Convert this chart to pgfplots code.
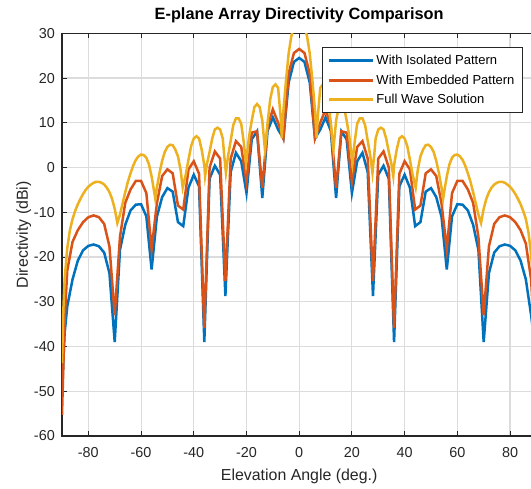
\documentclass[border=0pt]{standalone}
\usepackage{fontspec}
\setmainfont{Liberation Sans}
\usepackage{pgfplots}
\pgfplotsset{compat=1.18}
\definecolor{mBlue}{HTML}{0072BD}
\definecolor{mOrange}{HTML}{D95319}
\definecolor{mYellow}{HTML}{EDB120}
\definecolor{axcol}{HTML}{262626}
\definecolor{gridcol}{HTML}{DCDCDC}

\begin{document}
\begin{tikzpicture}
\begin{axis}[
  name=ax,
  scale only axis,
  width=474.4pt, height=402.7pt,
  xmin=-90, xmax=90, ymin=-60, ymax=30,
  xtick={-80,-60,-40,-20,0,20,40,60,80},
  xticklabels={-80,-60,-40,-20,0,20,40,60,80},
  ytick={-60,-50,-40,-30,-20,-10,0,10,20,30},
  yticklabels={-60,-50,-40,-30,-20,-10,0,10,20,30},
  tick align=inside,
  major tick length=5pt,
  every tick/.style={axcol, line width=1pt},
  axis line style={axcol, line width=1.2pt},
  grid=major,
  major grid style={gridcol, line width=1.1pt},
  ticklabel style={font=\fontsize{14.4}{16}\selectfont, text=axcol},
  xticklabel style={anchor=north, inner sep=0pt, yshift=-11pt},
  yticklabel style={anchor=east, inner sep=0pt, xshift=-7pt},
  title={E-plane Array Directivity Comparison},
  title style={at={(axis description cs:0.5,1.0206)}, anchor=base, inner sep=0pt,
    font=\fontsize{16.3}{18}\selectfont\bfseries, text=black},
  xlabel={Elevation Angle (deg.)},
  ylabel={Directivity (dBi)},
  xlabel style={at={(axis description cs:0.5,-0.1093)}, anchor=base, inner sep=0pt,
    font=\fontsize{15.9}{18}\selectfont, text=axcol},
  ylabel style={at={(axis description cs:-0.0717,0.5)}, anchor=base, inner sep=0pt,
    font=\fontsize{15.9}{18}\selectfont, text=axcol},
  legend style={at={(axis description cs:0.9705,0.9652)}, anchor=north east,
    draw=axcol, line width=0.8pt, fill=white,
    font=\fontsize{13}{15}\selectfont,
    inner xsep=5.5pt, inner ysep=3.25pt, row sep=0pt,
    nodes={inner ysep=0pt, inner xsep=2pt, minimum height=19.5pt}},
  legend cell align=left,
  legend image code/.code={\draw[#1, line width=2.7pt] (0pt,0pt) -- (44pt,0pt);},
  every axis plot/.append style={line width=2.5pt},
]
% With Isolated Pattern
\addplot[mBlue] coordinates {
(-90,-50) (-89,-37) (-88,-31) (-86,-25) (-84,-20.8) (-82,-18.5) (-80,-17.5)
(-78,-17.2) (-76,-17.6) (-74,-19) (-72,-23.6) (-70,-39) (-68,-18.4) (-66,-12.8)
(-64,-9.6) (-62,-8.3) (-60,-8.2) (-58,-10.9) (-56,-22.8) (-54,-11) (-52,-6.6)
(-50,-4.6) (-48,-5.4) (-46,-12.2) (-44,-13.1) (-42,-4.5) (-40,-1.6) (-38,-4.2)
(-36,-39) (-34,-2.5) (-32,0.4) (-30,-1.6) (-28,-28.7) (-26,-1) (-24,3.3)
(-22,1.4) (-20,-5.7) (-18,6.3) (-16,8.1) (-14,-6.8) (-12,8.2) (-10,11.2)
(-8,8.5) (-6,6.5) (-4,19) (-2,23.6) (0,24.5)
(2,23.6) (4,19) (6,6.5) (8,8.5) (10,11.2) (12,8.2) (14,-6.8) (16,8.1) (18,6.3)
(20,-5.7) (22,1.4) (24,3.3) (26,-1) (28,-28.7) (30,-1.6) (32,0.4) (34,-2.5)
(36,-39) (38,-4.2) (40,-1.6) (42,-4.5) (44,-13.1) (46,-12.2) (48,-5.4)
(50,-4.6) (52,-6.6) (54,-11) (56,-22.8) (58,-10.9) (60,-8.2) (62,-8.3)
(64,-9.6) (66,-12.8) (68,-18.4) (70,-39) (72,-23.6) (74,-19) (76,-17.6)
(78,-17.2) (80,-17.5) (82,-18.5) (84,-20.8) (86,-25) (88,-33) (89,-38) (90,-50)
};
\addlegendentry{With Isolated Pattern}
% With Embedded Pattern
\addplot[mOrange] coordinates {
(-90,-55.3) (-89,-34) (-88,-23) (-86,-16.6) (-84,-14) (-82,-12.2) (-80,-11.1)
(-78,-10.7) (-76,-11.1) (-74,-12.6) (-72,-17.6) (-70,-33) (-68,-15.5) (-66,-7.9)
(-64,-4.9) (-62,-3) (-60,-3) (-58,-5.7) (-56,-18.2) (-54,-8) (-52,-1.9)
(-50,-0.4) (-48,-1.3) (-46,-8.5) (-44,-9.4) (-42,-0.4) (-40,1.4) (-38,-1.4)
(-36,-35.9) (-34,0) (-32,3.6) (-30,2) (-28,-25.4) (-26,2) (-24,5.9) (-22,4.6)
(-20,-3.1) (-18,7.8) (-16,8.1) (-14,-4.5) (-12,9.3) (-10,13) (-8,10) (-6,6.5)
(-4,21) (-2,25.6) (0,26.5)
(2,25.6) (4,21) (6,6.5) (8,10) (10,13) (12,9.3) (14,-4.5) (16,8.1) (18,7.8)
(20,-3.1) (22,4.6) (24,5.9) (26,2) (28,-25.4) (30,2) (32,3.6) (34,0)
(36,-35.9) (38,-1.4) (40,1.4) (42,-0.4) (44,-9.4) (46,-8.5) (48,-1.3)
(50,-0.4) (52,-1.9) (54,-8) (56,-18.2) (58,-5.7) (60,-3) (62,-3) (64,-4.9)
(66,-7.9) (68,-15.5) (70,-33) (72,-17.6) (74,-12.6) (76,-11.1) (78,-10.7)
(80,-11.1) (82,-12.2) (84,-14) (86,-17) (88,-25) (89,-36) (90,-55.3)
};
\addlegendentry{With Embedded Pattern}
% Full Wave Solution
\addplot[mYellow] coordinates {
(-90,-43.7) (-89.5,-32) (-89,-25) (-88,-18) (-87,-14) (-86,-11.5) (-85,-9.7)
(-84,-8.2) (-83,-7) (-82,-5.9) (-81,-5) (-80,-4.3) (-79,-3.8) (-78,-3.4)
(-77,-3.2) (-76,-3.2) (-75,-3.4) (-74,-3.8) (-73,-4.5) (-72,-5.5) (-71,-7)
(-70,-9.2) (-69,-12.4) (-68,-10.5) (-67,-8) (-66,-5.5) (-65,-3.2) (-64,-1.3)
(-63,0.4) (-62,1.7) (-61,2.5) (-60,2.9) (-59,2.8) (-58,2.2) (-57,0.7) (-56,-2)
(-55,-5.5) (-54.6,-7) (-54,-4.5) (-53,-1.2) (-52,1.5) (-51,3.5) (-50,4.6)
(-49,5.1) (-48,5) (-47,4) (-46,2.5) (-45,-0.5) (-44.2,-4.5) (-43,-1.5)
(-42,1.8) (-41,4.8) (-40,6.5) (-39,7) (-38,6.5) (-37,4) (-36,0.5) (-35.7,-1.9)
(-35,0.8) (-34,3.5) (-33,6.5) (-32,8.5) (-31,8.9) (-30,8.5) (-29,6.5)
(-28.5,3) (-27.8,-1.2) (-27,2.5) (-26,6) (-25,9.5) (-24,11) (-23,11) (-22,9.8)
(-21,5.5) (-20.2,1) (-19.5,4.5) (-19,7) (-18,10.5) (-17,13.5) (-16,14.2)
(-15,13.5) (-14,10.5) (-13,4) (-12.5,6.5) (-12,10) (-11,15.2) (-10,18)
(-9,18.6) (-8,17.8) (-7,11) (-6.6,6.6) (-6,12.7) (-5,19.5) (-4,25.5)
(-3,29.3) (-2,31.5) (-1,32.5) (0,33)
(1,32.5) (2,31.5) (3,29.3) (4,25.5) (5,19.5) (6,12.7) (6.6,6.6) (7,11)
(8,17.8) (9,18.6) (10,18) (11,15.2) (12,10) (12.5,6.5) (13,4) (14,10.5)
(15,13.5) (16,14.2) (17,13.5) (18,10.5) (19,7) (19.5,4.5) (20.2,1) (21,5.5)
(22,9.8) (23,11) (24,11) (25,9.5) (26,6) (27,2.5) (27.8,-1.2) (28.5,3)
(29,6.5) (30,8.5) (31,8.9) (32,8.5) (33,6.5) (34,3.5) (35,0.8) (35.7,-1.9)
(36,0.5) (37,4) (38,6.5) (39,7) (40,6.5) (41,4.8) (42,1.8) (43,-1.5)
(44.2,-4.5) (45,-0.5) (46,2.5) (47,4) (48,5) (49,5.1) (50,4.6) (51,3.5)
(52,1.5) (53,-1.2) (54,-4.5) (54.6,-7) (55,-5.5) (56,-2) (57,0.7) (58,2.2)
(59,2.8) (60,2.9) (61,2.5) (62,1.7) (63,0.4) (64,-1.3) (65,-3.2) (66,-5.5)
(67,-8) (68,-10.5) (69,-12.4) (70,-9.2) (71,-7) (72,-5.5) (73,-4.5) (74,-3.8)
(75,-3.4) (76,-3.2) (77,-3.2) (78,-3.4) (79,-3.8) (80,-4.3) (81,-5) (82,-5.9)
(83,-7) (84,-8.2) (85,-9.7) (86,-11.5) (87,-14.5) (88,-19.5) (89,-27)
(89.5,-33) (90,-43.7)
};
\addlegendentry{Full Wave Solution}
\end{axis}
\pgfresetboundingbox
\path[use as bounding box] ([shift={(-62pt,-53pt)}]ax.south west) rectangle ++(531pt,489pt);
\end{tikzpicture}
\end{document}
